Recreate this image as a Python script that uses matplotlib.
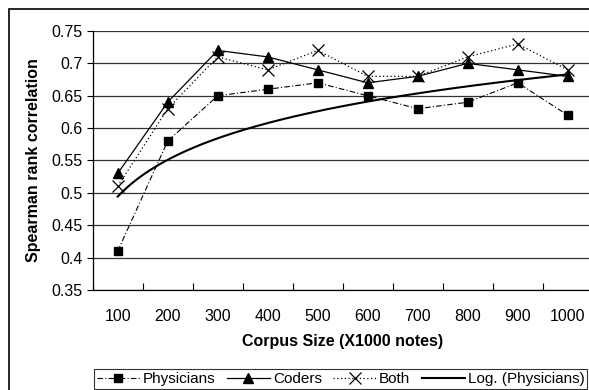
import numpy as np
import matplotlib
matplotlib.use("Agg")
import matplotlib.pyplot as plt
from matplotlib.patches import Rectangle

plt.rcParams['font.family'] = ['Liberation Sans', 'DejaVu Sans']

# data
sizes = [100, 200, 300, 400, 500, 600, 700, 800, 900, 1000]
physicians = [0.41, 0.58, 0.65, 0.66, 0.67, 0.65, 0.63, 0.64, 0.67, 0.62]
coders = [0.53, 0.64, 0.72, 0.71, 0.69, 0.67, 0.68, 0.70, 0.69, 0.68]
both = [0.51, 0.63, 0.71, 0.69, 0.72, 0.68, 0.68, 0.71, 0.73, 0.69]
y_ticks = [0.35, 0.4, 0.45, 0.5, 0.55, 0.6, 0.65, 0.7, 0.75]

fig = plt.figure(figsize=(5.89, 3.90), dpi=100)
W, H = 589, 390
ax = fig.add_axes([92.7 / W, 1 - 290 / H, 500 / W, 259 / H])

pos = np.arange(1, len(sizes) + 1)

# log trendline of the physicians series (as the spreadsheet does it)
a, b = np.polyfit(np.log(pos), physicians, 1)
xs = np.linspace(1, len(sizes), 200)
trend = a * np.log(xs) + b

ax.plot(pos, physicians, color='black', lw=0.8, ls=(0, (5, 2, 1, 2)),
        marker='s', ms=5.5, label='Physicians')
ax.plot(pos, coders, color='black', lw=0.9, ls='-',
        marker='^', ms=7.5, label='Coders')
ax.plot(pos, both, color='black', lw=0.9, ls=(0, (1, 2)),
        marker='x', ms=8, mew=0.9, label='Both')
ax.plot(xs, trend, color='black', lw=1.5, label='Log. (Physicians)')

ax.set_xlim(0.5, len(sizes) + 0.5)
ax.set_ylim(0.35, 0.75)
ax.set_yticks(y_ticks)
ax.set_yticklabels([('%.2f' % v).rstrip('0') for v in y_ticks])
ax.set_xticks(pos)
ax.set_xticklabels([str(s) for s in sizes])
ax.set_xticks(np.arange(0.5, len(sizes) + 1), minor=True)
ax.tick_params(axis='x', which='major', length=0, pad=14, labelsize=11.5)
ax.tick_params(axis='x', which='minor', length=5, direction='in', width=0.8)
ax.tick_params(axis='y', length=4, width=0.8, labelsize=11.5, pad=3)
ax.yaxis.grid(True, color='#333333', lw=0.9)
ax.set_axisbelow(True)
for s in ['top', 'right']:
    ax.spines[s].set_visible(False)
for s in ['left', 'bottom']:
    ax.spines[s].set_linewidth(0.9)

ax.set_ylabel('Spearman rank correlation', fontsize=11.5, fontweight='bold', labelpad=8)
ax.set_xlabel('Corpus Size (X1000 notes)', fontsize=11.5, fontweight='bold', labelpad=7)

leg = fig.legend(loc='lower left', bbox_to_anchor=(94 / W, 1 - 389 / H),
                 ncol=4, fontsize=11, frameon=True, fancybox=False,
                 handlelength=2.8, columnspacing=0.75, handletextpad=0.2,
                 borderpad=0.2, borderaxespad=0)
leg.get_frame().set_edgecolor('black')
leg.get_frame().set_linewidth(0.8)

# outer chart border
fig.patches.append(Rectangle((9 / W, -0.1), 1.2, 1.1 - 9 / H, transform=fig.transFigure,
                             fill=False, edgecolor='black', lw=1.2))

fig.savefig('out.png', dpi=100)
